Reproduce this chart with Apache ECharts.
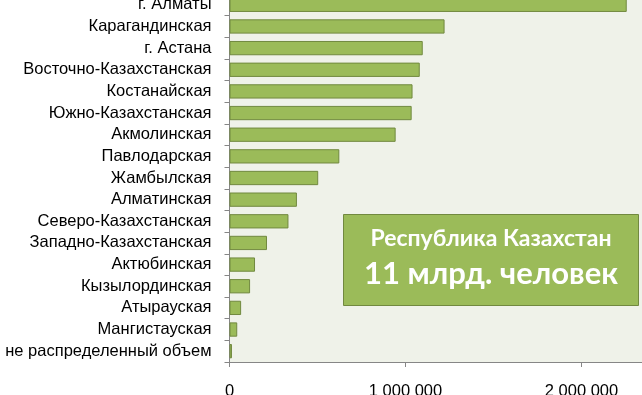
<!DOCTYPE html>
<html>
<head>
<meta charset="utf-8">
<script src="https://cdn.jsdelivr.net/npm/echarts@6/dist/echarts.min.js"></script>
<style>
html,body{margin:0;padding:0;background:#fff;}
#chart{width:642px;height:395px;}
</style>
</head>
<body>
<div id="chart"></div>
<script>
var categories = ["г. Алматы","Карагандинская","г. Астана","Восточно-Казахстанская","Костанайская","Южно-Казахстанская","Акмолинская","Павлодарская","Жамбылская","Алматинская","Северо-Казахстанская","Западно-Казахстанская","Актюбинская","Кызылординская","Атырауская","Мангистауская","не распределенный объем"];
var values = [2257000,1222000,1098000,1081000,1040000,1035000,944000,624000,504000,383000,335000,213000,145000,117000,66000,44000,14000];
var boxLine1 = "Республика Казахстан";
var boxLine2 = "11 млрд. человек";

var chart = echarts.init(document.getElementById('chart'), null, {renderer:'canvas'});
function fmt(v){ return String(v).replace(/\B(?=(\d{3})+(?!\d))/g,' '); }
chart.setOption({
  animation:false,
  backgroundColor:'#ffffff',
  grid:{left:229.5, top:-6, width:440, height:368, show:true, backgroundColor:'#eff2e9', borderWidth:0, containLabel:false, outerBoundsMode:'none'},
  xAxis:{
    type:'value', min:0, max:2500000, interval:1000000,
    axisLine:{show:true, lineStyle:{color:'#868686', width:1}},
    axisTick:{show:true, length:5, lineStyle:{color:'#868686'}},
    splitLine:{show:false},
    axisLabel:{margin:21, color:'#000', fontFamily:'Liberation Sans, Arial', fontSize:16.5, formatter:function(v){return v % 1000000 === 0 ? fmt(v) : '';}}
  },
  yAxis:{
    type:'category', data:categories, inverse:true,
    axisLine:{show:true, lineStyle:{color:'#868686', width:1}},
    axisTick:{show:true, length:5, alignWithLabel:false, lineStyle:{color:'#868686'}},
    axisLabel:{interval:0, margin:18, padding:[4,0,0,0], color:'#000', fontFamily:'Liberation Sans, Arial', fontSize:16.5}
  },
  series:[{
    type:'bar', data:values, barCategoryGap:'34%',
    itemStyle:{color:'#9bbb59', borderColor:'#71893f', borderWidth:1}
  }],
  graphic:[{
    type:'group', left:343, top:214,
    children:[
      {type:'rect', shape:{x:0,y:0,width:295,height:91}, style:{fill:'#9bbb59', stroke:'#71893f', lineWidth:1}},
      {type:'text', x:147.5, y:24, style:{text:boxLine1, fill:'#fff', font:'bold 23px Lato, "Open Sans", sans-serif', textAlign:'center', textVerticalAlign:'middle'}},
      {type:'text', x:147.5, y:59, style:{text:boxLine2, fill:'#fff', font:'bold 31px Lato, "Open Sans", sans-serif', textAlign:'center', textVerticalAlign:'middle'}}
    ]
  }]
});
</script>
</body>
</html>
